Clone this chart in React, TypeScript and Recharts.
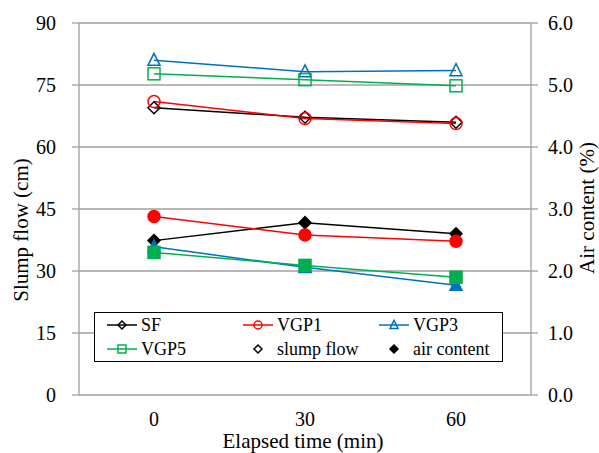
import React from "react";
import {
  LineChart,
  Line,
  XAxis,
  YAxis,
  CartesianGrid,
  Label,
} from "recharts";

const times = ["0", "30", "60"];

// slump flow (cm), left axis
const sfFlow = [69.5, 67.2, 66.0];
const vgp1Flow = [71.0, 66.9, 65.7];
const vgp3Flow = [81.0, 78.2, 78.5];
const vgp5Flow = [77.7, 76.3, 74.8];

// air content (%), right axis
const sfAir = [2.49, 2.78, 2.6];
const vgp1Air = [2.88, 2.58, 2.48];
const vgp3Air = [2.39, 2.06, 1.77];
const vgp5Air = [2.3, 2.09, 1.9];

const flowTicks = [0, 15, 30, 45, 60, 75, 90];
const airTicks = [0, 1, 2, 3, 4, 5, 6];

const mixes = [
  { name: "SF", color: "#000000", shape: "diamond", flow: sfFlow, air: sfAir },
  { name: "VGP1", color: "#ff0000", shape: "circle", flow: vgp1Flow, air: vgp1Air },
  { name: "VGP3", color: "#0070c0", shape: "triangle", flow: vgp3Flow, air: vgp3Air },
  { name: "VGP5", color: "#00b050", shape: "square", flow: vgp5Flow, air: vgp5Air },
];

const data = times.map((t, i) => {
  const row: Record<string, string | number> = { time: t };
  mixes.forEach((m) => {
    row[m.name + "_flow"] = m.flow[i];
    row[m.name + "_air"] = m.air[i];
  });
  return row;
});

const FONT = "Liberation Serif, Times New Roman, DejaVu Serif, Noto Serif, serif";

function Marker({
  shape,
  cx,
  cy,
  color,
  filled,
  size,
}: {
  shape: string;
  cx: number;
  cy: number;
  color: string;
  filled: boolean;
  size: number;
}) {
  const fill = filled ? color : "none";
  const s = size / 2;
  const common = { stroke: color, strokeWidth: 1.5, fill };
  if (shape === "circle") return <circle cx={cx} cy={cy} r={s} {...common} />;
  if (shape === "square")
    return <rect x={cx - s} y={cy - s} width={size} height={size} {...common} />;
  if (shape === "triangle")
    return (
      <polygon
        points={`${cx},${cy - s * 1.15} ${cx + s},${cy + s * 0.85} ${cx - s},${cy + s * 0.85}`}
        {...common}
      />
    );
  return (
    <polygon
      points={`${cx},${cy - s} ${cx + s},${cy} ${cx},${cy + s} ${cx - s},${cy}`}
      {...common}
    />
  );
}

const makeDot = (shape: string, color: string, filled: boolean) => (props: any) => {
  const { cx, cy, index } = props;
  if (cx == null || cy == null) return <g key={index} />;
  return (
    <g key={`${shape}-${filled}-${index}`}>
      <Marker shape={shape} cx={cx} cy={cy} color={color} filled={filled} size={12} />
    </g>
  );
};

function LegendSymbol({ shape, color, line, filled }: any) {
  return (
    <svg width={30} height={14} style={{ verticalAlign: "middle" }}>
      {line && <line x1={0} y1={7} x2={30} y2={7} stroke={color} strokeWidth={1.5} />}
      <Marker shape={shape} cx={15} cy={7} color={color} filled={filled} size={8} />
    </svg>
  );
}

function ChartLegend() {
  const items = [
    ...mixes.map((m) => ({ label: m.name, shape: m.shape, color: m.color, line: true, filled: false })),
    { label: "slump flow", shape: "diamond", color: "#000", line: false, filled: false },
    { label: "air content", shape: "diamond", color: "#000", line: false, filled: true },
  ];
  return (
    <div
      style={{
        position: "absolute",
        left: 94,
        top: 312,
        border: "1.5px solid #000",
        background: "#fff",
        width: 409,
        height: 50,
        boxSizing: "border-box",
        display: "grid",
        gridTemplateColumns: "136px 136px 136px",
        gridTemplateRows: "24px 24px",
        padding: "0 0 0 12px",
        alignContent: "center",
        fontFamily: FONT,
        fontSize: 18,
        color: "#000",
      }}
    >
      {items.map((it) => (
        <div key={it.label} style={{ display: "flex", alignItems: "center", whiteSpace: "nowrap" }}>
          <LegendSymbol {...it} />
          <span style={{ marginLeft: 4 }}>{it.label}</span>
        </div>
      ))}
    </div>
  );
}

const tickStyle = { fontFamily: FONT, fontSize: 20, fill: "#000" };
const titleStyle = { fontFamily: FONT, fontSize: 21, fill: "#000" };

export default function App() {
  return (
    <div style={{ position: "relative", width: 599, height: 453 }}>
      <style>{"body{margin:0;background:#fff}"}</style>
      <LineChart
        width={599}
        height={453}
        data={data}
        margin={{ top: 23, right: 0, bottom: 0, left: 0 }}
      >
        <CartesianGrid vertical={false} stroke="#a0a0a0" strokeWidth={1.3} yAxisId="left" />
        <XAxis
          dataKey="time"
          padding={{ left: 75, right: 75 }}
          axisLine={false}
          tickLine={false}
          tickSize={0}
          tickMargin={17}
          height={58}
          tick={tickStyle}
          interval={0}
        >
          <Label
            content={() => (
              <text x={303} y={448} textAnchor="middle" style={titleStyle}>
                Elapsed time (min)
              </text>
            )}
          />
        </XAxis>
        <YAxis
          yAxisId="left"
          orientation="left"
          width={79}
          domain={[0, 90]}
          ticks={flowTicks}
          interval={0}
          axisLine={{ stroke: "#a0a0a0", strokeWidth: 1.3 }}
          tickLine={{ stroke: "#a0a0a0", strokeWidth: 1.3 }}
          tickSize={7}
          tickMargin={16}
          tick={tickStyle}
        >
          <Label
            content={() => (
              <text
                x={21}
                y={230}
                textAnchor="middle"
                dominantBaseline="central"
                transform="rotate(-90, 21, 230)"
                style={titleStyle}
              >
                Slump flow (cm)
              </text>
            )}
          />
        </YAxis>
        <YAxis
          yAxisId="right"
          orientation="right"
          width={68}
          domain={[0, 6]}
          ticks={airTicks}
          interval={0}
          tickFormatter={(v: number) => v.toFixed(1)}
          axisLine={{ stroke: "#a0a0a0", strokeWidth: 1.3 }}
          tickLine={{ stroke: "#a0a0a0", strokeWidth: 1.3 }}
          tickSize={7}
          tickMargin={10}
          tick={tickStyle}
        >
          <Label
            content={() => (
              <text
                x={587}
                y={208}
                textAnchor="middle"
                dominantBaseline="central"
                transform="rotate(-90, 587, 208)"
                style={titleStyle}
              >
                Air content (%)
              </text>
            )}
          />
        </YAxis>
        {mixes.map((m) => (
          <Line
            key={m.name + "_flow"}
            yAxisId="left"
            dataKey={m.name + "_flow"}
            stroke={m.color}
            strokeWidth={1.5}
            dot={makeDot(m.shape, m.color, false)}
            activeDot={false}
            isAnimationActive={false}
          />
        ))}
        {mixes.map((m) => (
          <Line
            key={m.name + "_air"}
            yAxisId="right"
            dataKey={m.name + "_air"}
            stroke={m.color}
            strokeWidth={1.5}
            dot={makeDot(m.shape, m.color, true)}
            activeDot={false}
            isAnimationActive={false}
          />
        ))}
      </LineChart>
      <ChartLegend />
    </div>
  );
}
